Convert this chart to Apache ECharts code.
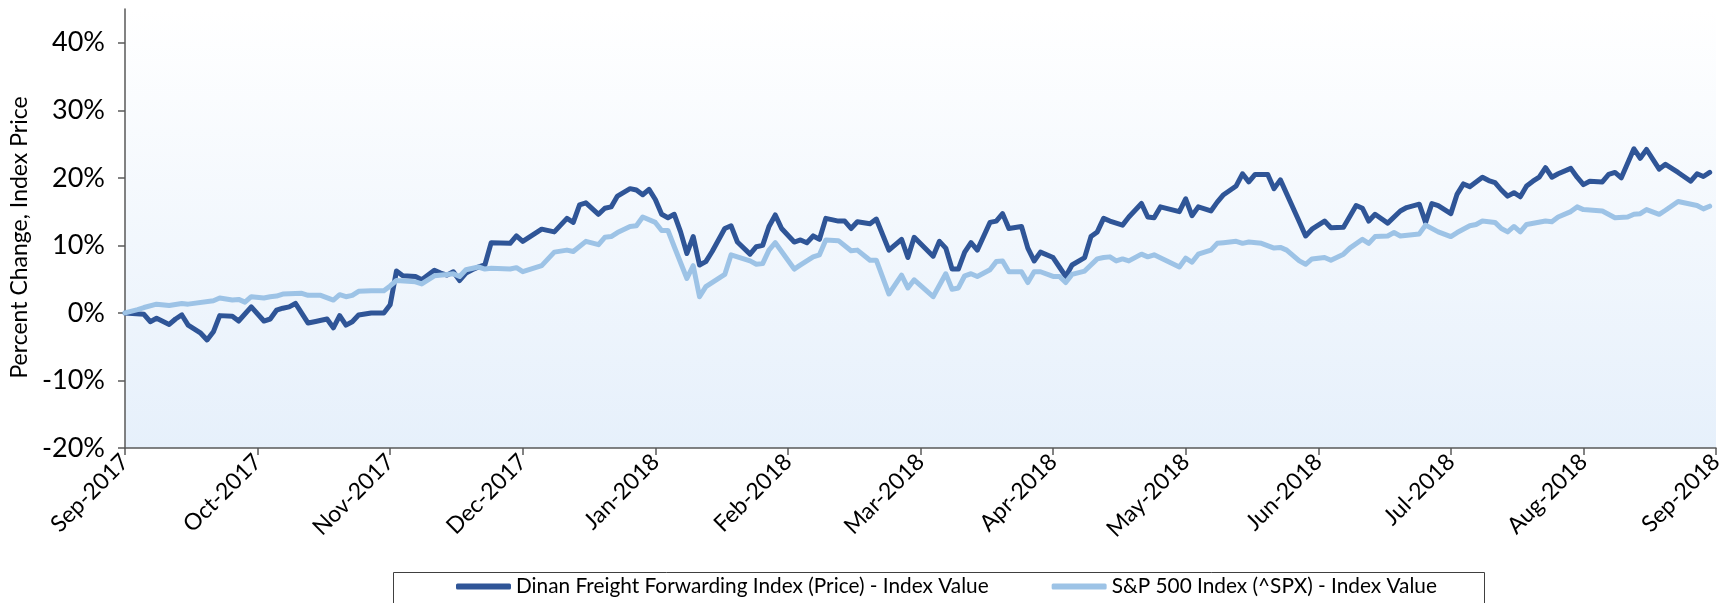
<!DOCTYPE html>
<html>
<head>
<meta charset="utf-8">
<script src="https://cdn.jsdelivr.net/npm/echarts@6/dist/echarts.min.js"></script>
<style>
html,body{margin:0;padding:0;background:#fff;}
#chart{width:1736px;height:603px;}
</style>
</head>
<body>
<div id="chart"></div>
<script>
// ---- data (x = trading-day index from 1-Sep-2017, y = percent change) ----
const monthLabels = ['Sep-2017','Oct-2017','Nov-2017','Dec-2017','Jan-2018','Feb-2018','Mar-2018','Apr-2018','May-2018','Jun-2018','Jul-2018','Aug-2018','Sep-2018'];
const daysPerLabel = 21;
const yTicks = [-20,-10,0,10,20,30,40];
const seriesNames = ['Dinan Freight Forwarding Index (Price) - Index Value','S&P 500 Index (^SPX) - Index Value'];

const dinanValues = [
[0,0],[3,-0.2],[4,-1.3],[5,-0.8],[7,-1.7],[8,-0.9],[9,-0.3],[10,-1.8],[12,-3.0],[13,-4.0],[14,-2.8],[15,-0.4],[17,-0.5],[18,-1.2],[20,0.9],[22,-1.2],[23,-0.9],[24,0.4],[25,0.7],[26,0.9],[27,1.4],[29,-1.5],[30,-1.3],[32,-0.9],[33,-2.2],[34,-0.4],[35,-1.8],[36,-1.3],[37,-0.3],[39,0.0],[41,0.0],[42,1.2],[43,6.2],[44,5.5],[46,5.4],[47,4.9],[49,6.3],[50,5.9],[51,5.6],[52,6.1],[53,4.8],[54,5.9],[55,6.4],[56,6.8],[57,7.1],[58,10.4],[61,10.3],[62,11.4],[63,10.6],[66,12.4],[68,12.0],[69,13.0],[70,14.0],[71,13.4],[72,16.0],[73,16.3],[75,14.6],[76,15.5],[77,15.7],[78,17.3],[80,18.4],[81,18.2],[82,17.5],[83,18.3],[84,16.8],[85,14.6],[86,14.1],[87,14.6],[88,12.0],[89,8.8],[90,11.3],[91,7.1],[92,7.6],[93,9.1],[95,12.5],[96,12.9],[97,10.5],[99,8.7],[100,9.8],[101,10.0],[102,12.8],[103,14.5],[104,12.5],[106,10.5],[107,10.8],[108,10.4],[109,11.4],[110,10.9],[111,14.0],[113,13.6],[114,13.6],[115,12.5],[116,13.5],[118,13.2],[119,13.9],[121,9.3],[123,10.9],[124,8.2],[125,11.2],[128,8.4],[129,10.6],[130,9.6],[131,6.5],[132,6.5],[133,9.0],[134,10.4],[135,9.3],[137,13.4],[138,13.6],[139,14.7],[140,12.5],[142,12.8],[143,9.6],[144,7.7],[145,9.0],[147,8.2],[148,6.8],[149,5.4],[150,7.1],[152,8.2],[153,11.3],[154,12.0],[155,14.0],[156,13.6],[158,13.0],[159,14.2],[161,16.2],[162,14.2],[163,14.1],[164,15.7],[167,15.0],[168,16.9],[169,14.4],[170,15.7],[172,15.1],[173,16.4],[174,17.5],[176,18.8],[177,20.6],[178,19.4],[179,20.5],[181,20.5],[182,18.4],[183,19.7],[186,13.5],[187,11.4],[188,12.4],[190,13.6],[191,12.6],[193,12.7],[195,15.9],[196,15.5],[197,13.6],[198,14.6],[200,13.3],[202,15.1],[203,15.6],[205,16.1],[206,13.4],[207,16.2],[208,15.9],[210,14.7],[211,17.6],[212,19.1],[213,18.7],[215,20.1],[216,19.6],[217,19.3],[218,18.2],[219,17.3],[220,17.8],[221,17.2],[222,18.8],[223,19.5],[224,20.1],[225,21.5],[226,20.1],[227,20.6],[229,21.4],[230,20.1],[231,19.0],[232,19.5],[234,19.4],[235,20.5],[236,20.8],[237,20.0],[239,24.3],[240,22.9],[241,24.2],[243,21.3],[244,22.0],[246,20.8],[248,19.5],[249,20.6],[250,20.2],[251,20.8]
];

const spxValues = [
[0,0],[2,0.5],[3,0.8],[5,1.3],[7,1.1],[9,1.4],[10,1.3],[14,1.8],[15,2.2],[17,1.9],[18,2.0],[19,1.6],[20,2.4],[22,2.2],[23,2.4],[24,2.5],[25,2.8],[28,2.9],[29,2.6],[31,2.6],[33,1.9],[34,2.7],[35,2.4],[36,2.6],[37,3.2],[39,3.3],[41,3.3],[42,4.0],[43,4.8],[46,4.6],[47,4.3],[49,5.5],[51,5.7],[52,5.8],[53,5.4],[54,6.4],[56,6.8],[57,6.5],[58,6.6],[61,6.5],[62,6.7],[63,6.1],[66,7.0],[68,9.0],[70,9.3],[71,9.1],[73,10.6],[75,10.1],[76,11.2],[77,11.3],[78,11.9],[80,12.8],[81,12.9],[82,14.2],[84,13.4],[85,12.2],[86,12.2],[87,9.8],[89,5.1],[90,7.0],[91,2.4],[92,3.9],[95,5.7],[96,8.6],[99,7.7],[100,7.2],[101,7.3],[102,9.3],[103,10.4],[106,6.5],[107,7.1],[109,8.3],[110,8.6],[111,10.8],[113,10.7],[115,9.2],[116,9.3],[118,7.8],[119,7.8],[121,2.8],[123,5.6],[124,3.7],[125,4.9],[128,2.4],[130,5.8],[131,3.5],[132,3.7],[133,5.5],[134,5.8],[135,5.4],[137,6.4],[138,7.6],[139,7.7],[140,6.1],[142,6.1],[143,4.5],[144,6.1],[145,6.1],[147,5.4],[148,5.4],[149,4.5],[150,5.7],[152,6.2],[154,8.0],[155,8.2],[156,8.3],[157,7.7],[158,8.0],[159,7.7],[161,8.7],[162,8.3],[163,8.6],[167,6.8],[168,8.1],[169,7.5],[170,8.7],[172,9.3],[173,10.3],[174,10.4],[176,10.6],[177,10.3],[178,10.5],[180,10.3],[182,9.6],[183,9.7],[184,9.3],[186,7.7],[187,7.2],[188,8.0],[190,8.2],[191,7.8],[193,8.7],[194,9.6],[196,10.9],[197,10.3],[198,11.3],[200,11.4],[201,11.9],[202,11.4],[205,11.7],[206,13.0],[208,12.0],[210,11.3],[211,11.9],[213,12.9],[214,13.1],[215,13.6],[217,13.4],[218,12.5],[219,12.0],[220,12.8],[221,12.0],[222,13.1],[225,13.6],[226,13.5],[227,14.2],[229,15.0],[230,15.7],[231,15.3],[234,15.1],[236,14.1],[238,14.2],[239,14.6],[240,14.7],[241,15.3],[243,14.6],[244,15.2],[246,16.5],[249,15.9],[250,15.4],[251,15.8]
];

const chart = echarts.init(document.getElementById('chart'), null, {renderer:'canvas'});
const FONT = 'Lato';
const axisColor = '#595959';

chart.setOption({
  animation:false,
  textStyle:{fontFamily:FONT,color:'#000'},
  grid:{
    left:125, right:20, top:9, bottom:155,
    outerBoundsMode:'none', containLabel:false,
    show:true, borderWidth:0,
    backgroundColor:{type:'linear',x:0,y:0,x2:0,y2:1,colorStops:[{offset:0,color:'#ffffff'},{offset:1,color:'#E6F0FB'}]}
  },
  xAxis:{
    type:'value', min:0, max:(monthLabels.length-1)*daysPerLabel, interval:daysPerLabel,
    splitLine:{show:false},
    axisLine:{onZero:false,lineStyle:{color:axisColor,width:1.5}},
    axisTick:{length:7,lineStyle:{color:axisColor,width:1.5}},
    axisLabel:{
      rotate:45, margin:10, fontSize:23, color:'#000', fontFamily:FONT,
      formatter:function(v){ const i=Math.round(v/daysPerLabel); return (v%daysPerLabel===0 && monthLabels[i])?monthLabels[i]:''; }
    }
  },
  yAxis:{
    type:'value', min:-20, max:45, interval:10,
    name:'Percent Change, Index Price', nameLocation:'middle', nameGap:91, nameRotate:90,
    nameTextStyle:{fontSize:23,color:'#000',fontFamily:FONT,padding:[0,18,0,0]},
    splitLine:{show:false},
    axisLine:{show:true,lineStyle:{color:axisColor,width:1.5}},
    axisTick:{show:true,length:7,customValues:yTicks,lineStyle:{color:axisColor,width:1.5}},
    axisLabel:{customValues:yTicks,fontSize:27,color:'#000',margin:20,fontFamily:FONT,formatter:function(v){return v+'%';}}
  },
  legend:{
    left:456, top:576, padding:0, itemWidth:55, itemHeight:6, itemGap:63, icon:'roundRect',
    textStyle:{fontSize:20.8,color:'#000',fontFamily:FONT},
    data:seriesNames
  },
  graphic:[{
    type:'rect', z:1, silent:true,
    shape:{x:393.5,y:572.5,width:1091,height:40},
    style:{fill:'#fff',stroke:'#404040',lineWidth:1}
  }],
  series:[
    {name:seriesNames[0], type:'line', data:dinanValues, showSymbol:false, symbol:'none',
     lineStyle:{color:'#2F5597',width:5,cap:'round',join:'round'}, itemStyle:{color:'#2F5597'}},
    {name:seriesNames[1], type:'line', data:spxValues, showSymbol:false, symbol:'none',
     lineStyle:{color:'#9DC3E6',width:5,cap:'round',join:'round'}, itemStyle:{color:'#9DC3E6'}}
  ]
});
</script>
</body>
</html>
